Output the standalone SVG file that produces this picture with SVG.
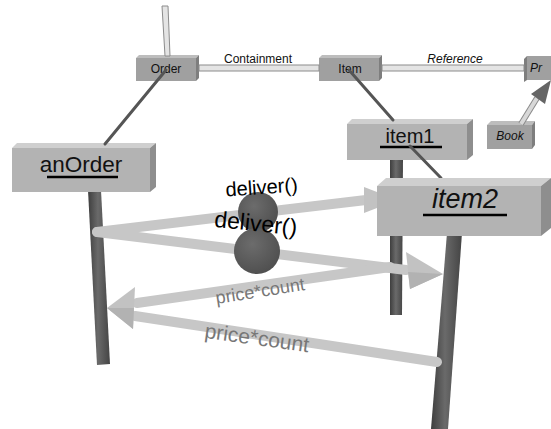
<svg xmlns="http://www.w3.org/2000/svg" width="551" height="429" viewBox="0 0 551 429">
<defs>
<style>
.lbl{font-family:"Liberation Sans",Arial,sans-serif;fill:#111;}
.cls{font-size:12px;text-anchor:middle;}
.inst{text-anchor:middle;}
.front{fill:#b3b3b3;}
.top{fill:#cfcfcf;}
.side{fill:#8e8e8e;}
.cfront{fill:#a0a0a0;}
.ctop{fill:#bdbdbd;}
.cside{fill:#7e7e7e;}
.inst-line{stroke:#555;stroke-width:3;stroke-linecap:round;}
.pipe{stroke:#c7c7c7;stroke-width:10;stroke-linecap:round;fill:none;}
.pipe-hi{stroke:#d6d6d6;stroke-width:3;fill:none;}
.cpipe{fill:#e4e4e4;stroke:#8c8c8c;stroke-width:1;}
.msg{font-family:"Liberation Sans",Arial,sans-serif;fill:#000;text-anchor:middle;}
.ret{font-family:"Liberation Sans",Arial,sans-serif;fill:#777;text-anchor:middle;}
.head{fill:#c2c2c2;}
.head-dk{fill:#b2b2b2;}
.ul{stroke:#000;stroke-width:2.5;}
</style>
<linearGradient id="lifeG" x1="0" y1="0" x2="1" y2="0">
<stop offset="0" stop-color="#3e3e3e"/>
<stop offset="0.45" stop-color="#6a6a6a"/>
<stop offset="1" stop-color="#444"/>
</linearGradient>
<radialGradient id="ballG" cx="0.4" cy="0.35" r="0.7">
<stop offset="0" stop-color="#6c6c6c"/>
<stop offset="1" stop-color="#4e4e4e"/>
</radialGradient>
</defs>
<rect width="551" height="429" fill="#fff"/>

<!-- class level -->
<g id="node-order">
<polygon class="ctop" points="136,58 139,55 199,55 196,58"/>
<polygon class="cside" points="196,58 199,55 199,78 196,81"/>
<rect class="cfront" x="136" y="58" width="60" height="23"/>
<text class="lbl cls" x="166" y="73">Order</text>
</g>
<g id="node-item">
<polygon class="ctop" points="319,58 322,55 382,55 379,58"/>
<polygon class="cside" points="379,58 382,55 382,78 379,81"/>
<rect class="cfront" x="319" y="58" width="60" height="23"/>
<text class="lbl cls" x="350" y="73">Item</text>
</g>
<g id="node-pr">
<polygon class="cside" points="524,59 527,56 527,80 524,82"/>
<rect class="cfront" x="527" y="56" width="24" height="24"/>
<text class="lbl" x="530" y="72" font-size="12" font-style="italic">Pr</text>
</g>
<g id="node-book">
<polygon class="ctop" points="487,125 491,121 535,121 532,125"/>
<polygon class="cside" points="532,125 535,121 535,145 532,149"/>
<rect class="cfront" x="487" y="125" width="45" height="24"/>
<text class="lbl cls" x="510" y="140" font-style="italic">Book</text>
</g>

<!-- instance level -->
<g id="node-anOrder">
<polygon points="88,190 101,190 110,364 97,365" fill="url(#lifeG)"/>
<polygon class="top" points="12,148 17,143 156,143 150,148"/>
<polygon class="side" points="150,148 156,143 156,187 150,192"/>
<rect class="front" x="12" y="148" width="138" height="44"/>
<text class="lbl inst" x="81" y="172" font-size="22.5">anOrder</text>
<line class="ul" x1="47" y1="177" x2="118" y2="177"/>
</g>
<g id="node-item1">
<polygon points="390,158 403,158 402,315 390,315" fill="url(#lifeG)"/>
<polygon class="top" points="347,124 352,119 473,119 467,124"/>
<polygon class="side" points="467,124 473,119 473,155 467,160"/>
<rect class="front" x="347" y="124" width="120" height="36"/>
<text class="lbl inst" x="410" y="143" font-size="20">item1</text>
<line class="ul" x1="380" y1="147" x2="442" y2="147"/>
</g>
<g id="connectors-inst-link">
<line class="inst-line" x1="410" y1="146" x2="441" y2="178"/>
</g>
<g id="node-item2">
<polygon points="447,233 462,233 448,429 431,429" fill="url(#lifeG)"/>
<polygon class="top" points="377,186 386,178 551,178 541,186"/>
<polygon class="side" points="541,186 551,178 551,228 541,236"/>
<rect class="front" x="377" y="186" width="164" height="50"/>
<text class="lbl inst" x="465" y="208" font-size="27" font-style="italic">item2</text>
<line class="ul" x1="423" y1="215" x2="507" y2="215"/>
</g>

<g id="connectors">
<!-- class level pipes -->
<polygon class="cpipe" points="162,6 168,6 170,56 165,56"/>
<rect class="cpipe" x="199" y="65" width="120" height="6"/>
<rect class="cpipe" x="382" y="65" width="142" height="6"/>
<text class="lbl cls" x="258" y="63">Containment</text>
<text class="lbl cls" x="455" y="63" font-style="italic">Reference</text>
<!-- Book generalization arrow -->
<line x1="521" y1="124" x2="537" y2="98" stroke="#8a8a8a" stroke-width="6"/>
<line x1="521" y1="124" x2="537" y2="98" stroke="#d8d8d8" stroke-width="4"/>
<polygon points="551,80 531,94 545,104" fill="#656565"/>
<!-- instance-of lines -->
<line class="inst-line" x1="166" y1="70" x2="105" y2="144"/>
<line class="inst-line" x1="349" y1="70" x2="393" y2="120"/>

<!-- messages -->
<line class="pipe" x1="97" y1="232" x2="366" y2="200"/>
<polygon class="head" points="364,187 377,192 377,208 364,213"/>
<line class="pipe" x1="97" y1="232" x2="406" y2="270"/>
<polygon class="head" points="406,252 443,274 410,289"/>
<polygon class="head-dk" points="408,272 443,274 410,289"/>
<line class="pipe" x1="437" y1="362" x2="135" y2="316"/>
<line class="pipe" x1="390" y1="267" x2="137" y2="303"/>
<polygon class="head" points="107,308 135,287 133,329"/>
<polygon class="head-dk" points="107,308 134,308 133,329"/>

<circle cx="258" cy="212" r="20" fill="url(#ballG)"/>
<circle cx="257" cy="251" r="23" fill="url(#ballG)"/>

<text class="msg" x="262" y="194" font-size="20" transform="rotate(-4 262 194)">deliver()</text>
<text class="msg" x="255" y="231" font-size="23" transform="rotate(6 255 231)">deliver()</text>
<text class="ret" x="261" y="297" font-size="18" transform="rotate(-9 261 297)">price*count</text>
<text class="ret" x="256" y="345" font-size="21" transform="rotate(8 256 345)">price*count</text>
</g>
</svg>
